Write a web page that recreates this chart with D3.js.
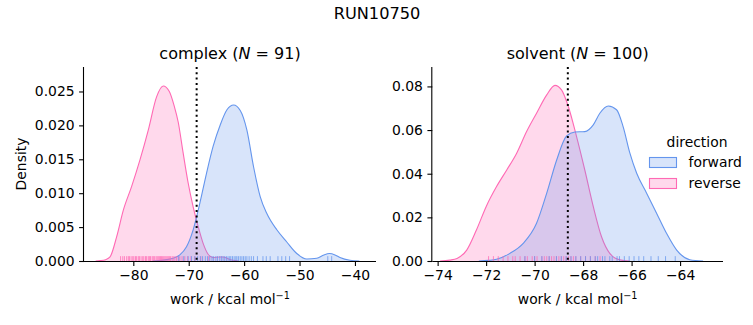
<!DOCTYPE html>
<html>
<head>
<meta charset="utf-8">
<script src="https://cdn.jsdelivr.net/npm/d3@7"></script>
<style>
  body { margin: 0; background: #fff; }
  svg { display: block; font-family: "DejaVu Sans", sans-serif; }
</style>
</head>
<body>
<svg id="chart" width="753" height="325"></svg>
<script>
// ---------------- data ----------------
const suptitle = "RUN10750";
const directions = ["forward", "reverse"];
const colors = { forward: "#6495ED", reverse: "#FF69B4" };

// complex: KDE curves [work, density]
const complexForwardKde = [
  [-76.5, 0], [-75.8, 0.00002], [-74.0, 0.0002], [-72.8, 0.0004], [-71.6, 0.0009], [-70.4, 0.0021],
  [-69.2, 0.0046], [-68.0, 0.0085], [-66.8, 0.0129], [-65.6, 0.0169], [-64.3, 0.0201],
  [-63.1, 0.0223], [-61.9, 0.0230], [-60.7, 0.0222], [-59.5, 0.0193], [-58.3, 0.0139],
  [-57.1, 0.0095], [-55.9, 0.0070], [-54.1, 0.0046], [-52.3, 0.0028], [-50.5, 0.0011],
  [-48.7, 0.0003], [-46.9, 0.0004], [-45.6, 0.0009], [-44.6, 0.0011], [-43.6, 0.0009],
  [-42.7, 0.0005], [-40.9, 0.0001], [-39.2, 0]
];
const complexReverseKde = [
  [-86.8, 0], [-86.0, 0.00005], [-85.0, 0.0002], [-84.2, 0.0006], [-83.0, 0.0036], [-81.8, 0.0075],
  [-80.3, 0.0110], [-78.8, 0.0149], [-77.3, 0.0193], [-75.8, 0.0242], [-74.6, 0.0258],
  [-73.5, 0.0250], [-72.6, 0.0228], [-71.9, 0.0205], [-71.0, 0.0159], [-70.1, 0.0115], [-69.2, 0.0080],
  [-68.3, 0.0051], [-67.4, 0.0026], [-66.5, 0.0010], [-65.6, 0.0005], [-64.5, 0.0006],
  [-63.8, 0.0006], [-62.8, 0.0003], [-62.0, 0.0001], [-61.0, 0]
];
// solvent: KDE curves [work, density]
const solventForwardKde = [
  [-72.3, 0], [-71.9, 0.0003], [-71.57, 0.0008], [-71.02, 0.0035], [-70.47, 0.0081], [-69.92, 0.0173],
  [-69.5, 0.0311], [-69.09, 0.0463], [-68.68, 0.0573], [-68.34, 0.0591], [-67.93, 0.0593],
  [-67.58, 0.0624], [-67.31, 0.0677], [-66.96, 0.0710], [-66.62, 0.0693], [-66.35, 0.0616],
  [-66.07, 0.0494], [-65.79, 0.0402], [-65.38, 0.0311], [-64.97, 0.0219], [-64.56, 0.0127],
  [-64.14, 0.0050], [-63.6, 0.0006], [-63.05, 0]
];
const solventReverseKde = [
  [-73.9, 0], [-73.5, 0.0004], [-73.2, 0.0012], [-72.8, 0.0050], [-72.4, 0.0142], [-72.0, 0.0249],
  [-71.57, 0.0341], [-71.15, 0.0417], [-70.74, 0.0494], [-70.33, 0.0593], [-69.92, 0.0677],
  [-69.5, 0.0761], [-69.16, 0.0805], [-68.89, 0.0784], [-68.61, 0.0708], [-68.27, 0.0570],
  [-67.93, 0.0417], [-67.58, 0.0249], [-67.24, 0.0111], [-66.9, 0.0035], [-66.48, 0.0005],
  [-66.07, 0]
];

// rug values (work samples)
const complexForwardRug = [-71.8,-70.9,-70.1,-69.5,-68.9,-68.4,-67.9,-67.5,-67.0,-66.6,-66.2,-65.8,-65.5,-65.1,
  -64.8,-64.4,-64.1,-63.8,-63.5,-63.2,-62.9,-62.6,-62.4,-62.1,-61.8,-61.5,-61.3,-61.0,-60.7,-60.4,-60.1,
  -59.8,-59.5,-59.1,-58.7,-58.3,-57.6,-56.6,-56.0,-55.3,-53.9,-53.2,-52.5,-51.8,-44.9,-44.2];
const complexReverseRug = [-82.3,-81.9,-81.6,-81.2,-80.9,-80.7,-80.4,-80.1,-79.9,-79.6,-79.4,-79.1,-78.9,-78.6,
  -78.3,-78.1,-77.8,-77.6,-77.3,-77.1,-76.9,-76.6,-76.4,-76.2,-75.9,-75.7,-75.5,-75.3,-75.1,-74.9,-74.7,
  -74.5,-74.3,-74.1,-73.9,-73.7,-73.5,-73.3,-73.0,-72.8,-72.5,-72.2,-71.9,-71.6,-71.2,-70.7,-70.2,-69.6,
  -68.9,-67.8,-66.4];
const solventForwardRug = [-70.4,-70.0,-69.7,-69.4,-69.1,-68.9,-68.7,-68.5,-68.3,-68.1,-67.9,-67.7,-67.5,-67.4,
  -67.2,-67.1,-66.9,-66.8,-66.6,-66.5,-66.3,-66.1,-65.9,-65.7,-65.5,-65.2,-64.9,-64.6,-64.2];
const solventReverseRug = [-71.9,-71.7,-71.5,-71.3,-71.1,-70.9,-70.8,-70.6,-70.4,-70.3,-70.1,-70.0,-69.9,-69.7,
  -69.6,-69.5,-69.4,-69.3,-69.2,-69.1,-69.0,-68.9,-68.8,-68.7,-68.6,-68.5,-68.4,-68.3,-68.1,-67.9,-67.7,
  -67.5,-67.3];

const complexEstimate = -68.57;
const solventEstimate = -68.63;

const complexXTicks = [-80, -70, -60, -50, -40];
const complexYTicks = [0, 0.005, 0.010, 0.015, 0.020, 0.025];
const solventXTicks = [-74, -72, -70, -68, -66, -64];
const solventYTicks = [0, 0.02, 0.04, 0.06, 0.08];

// ---------------- drawing ----------------
const svg = d3.select("#chart");
const FS = 13.9;

svg.append("text").attr("x", 377).attr("y", 19).attr("text-anchor", "middle")
  .attr("font-size", 16.2).text(suptitle);

function panel(cfg) {
  const x = d3.scaleLinear().domain(cfg.xDomain).range([cfg.left, cfg.right]);
  const y = d3.scaleLinear().domain(cfg.yDomain).range([cfg.bottom, cfg.top]);
  const g = svg.append("g");

  const area = d3.area().x(d => x(d[0])).y0(y(0)).y1(d => y(d[1])).curve(d3.curveMonotoneX);
  const line = d3.line().x(d => x(d[0])).y(d => y(d[1])).curve(d3.curveMonotoneX);

  // seaborn draws hue levels in reverse order: reverse first, forward on top
  ["reverse", "forward"].forEach(dir => {
    const kde = cfg.kde[dir];
    g.append("path").datum(kde).attr("d", area)
      .attr("fill", colors[dir]).attr("fill-opacity", 0.25).attr("stroke", "none");
    g.append("path").datum(kde).attr("d", line)
      .attr("fill", "none").attr("stroke", colors[dir]).attr("stroke-width", 1.1);
  });

  // rugs
  const rugH = (cfg.bottom - cfg.top) * 0.025;
  ["reverse", "forward"].forEach(dir => {
    g.selectAll(null).data(cfg.rug[dir]).enter().append("line")
      .attr("x1", d => x(d)).attr("x2", d => x(d))
      .attr("y1", cfg.bottom).attr("y2", cfg.bottom - rugH)
      .attr("stroke", colors[dir]).attr("stroke-opacity", 0.75).attr("stroke-width", 1);
  });

  // estimate line
  g.append("line").attr("x1", x(cfg.estimate)).attr("x2", x(cfg.estimate))
    .attr("y1", cfg.top).attr("y2", cfg.bottom)
    .attr("stroke", "#000").attr("stroke-width", 2).attr("stroke-dasharray", "2,3.3");

  // axes
  const xAxis = d3.axisBottom(x).tickValues(cfg.xTicks).tickSize(4.9).tickPadding(4.5)
    .tickFormat(d3.format("d"));
  const gx = g.append("g").attr("transform", `translate(0,${cfg.bottom})`).call(xAxis);
  gx.select(".domain").attr("d", `M${cfg.left},0.5H${cfg.right}`).attr("stroke-width", 1.1);
  const yAxis = d3.axisLeft(y).tickValues(cfg.yTicks).tickSize(4.9).tickPadding(4.5)
    .tickFormat(d3.format(cfg.yFormat));
  const gy = g.append("g").attr("transform", `translate(${cfg.left},0)`).call(yAxis);
  gy.select(".domain").attr("d", `M-0.5,${cfg.top}V${cfg.bottom}`).attr("stroke-width", 1.1);
  [gx, gy].forEach(a => {
    a.selectAll("text").attr("font-size", FS).attr("font-family", "DejaVu Sans").attr("fill", "#000");
    a.selectAll(".tick line").attr("stroke-width", 1.1);
  });

  // x label
  const xl = g.append("text").attr("x", (cfg.left + cfg.right) / 2).attr("y", 304)
    .attr("text-anchor", "middle").attr("font-size", FS);
  xl.append("tspan").text("work / kcal mol");
  xl.append("tspan").attr("dy", -5).attr("font-size", 9.7).text("\u22121");

  // title
  const t = g.append("text").attr("x", (cfg.left + cfg.right) / 2).attr("y", 59)
    .attr("text-anchor", "middle").attr("font-size", 16);
  t.append("tspan").text(cfg.name + " (");
  t.append("tspan").attr("font-style", "italic").text("N");
  t.append("tspan").text(" = " + cfg.n + ")");

  if (cfg.ylabel) {
    g.append("text").attr("transform", `translate(26,${(cfg.top + cfg.bottom) / 2}) rotate(-90)`)
      .attr("text-anchor", "middle").attr("font-size", FS).text("Density");
  }
}

panel({
  name: "complex", n: 91, left: 84, right: 376, top: 67, bottom: 261,
  xDomain: [-88.9, -36.2], yDomain: [0, 0.02861],
  kde: { forward: complexForwardKde, reverse: complexReverseKde },
  rug: { forward: complexForwardRug, reverse: complexReverseRug },
  estimate: complexEstimate, xTicks: complexXTicks, yTicks: complexYTicks, yFormat: ".3f",
  ylabel: true
});
panel({
  name: "solvent", n: 100, left: 432.3, right: 723, top: 67, bottom: 261,
  xDomain: [-74.22, -62.23], yDomain: [0, 0.0889],
  kde: { forward: solventForwardKde, reverse: solventReverseKde },
  rug: { forward: solventForwardRug, reverse: solventReverseRug },
  estimate: solventEstimate, xTicks: solventXTicks, yTicks: solventYTicks, yFormat: ".2f",
  ylabel: false
});

// legend
const lg = svg.append("g");
lg.append("text").attr("x", 697).attr("y", 147).attr("text-anchor", "middle")
  .attr("font-size", FS).text("direction");
directions.forEach((dir, i) => {
  const yy = 157.5 + i * 21;
  lg.append("rect").attr("x", 649.5).attr("y", yy).attr("width", 27).attr("height", 10)
    .attr("fill", colors[dir]).attr("fill-opacity", 0.25)
    .attr("stroke", colors[dir]).attr("stroke-width", 1.1);
  lg.append("text").attr("x", 688.5).attr("y", yy + 9.5).attr("font-size", FS).text(dir);
});
</script>
</body>
</html>
